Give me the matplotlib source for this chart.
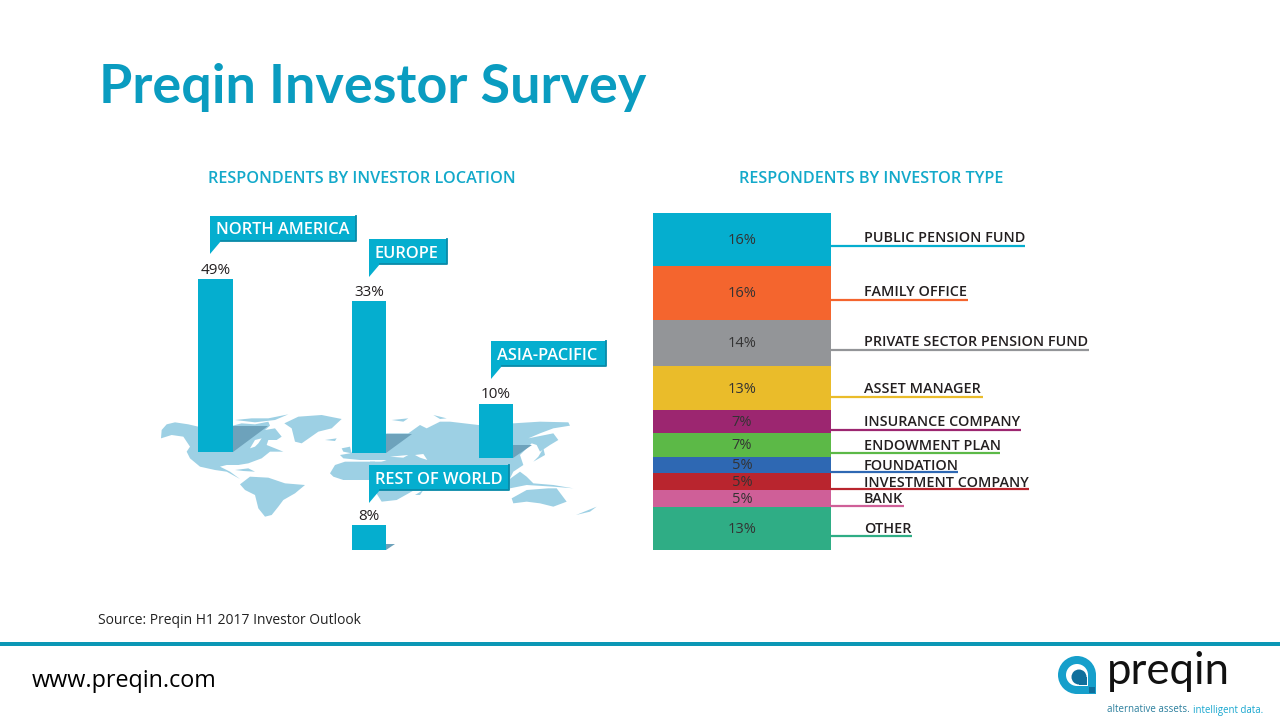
import matplotlib
matplotlib.use("Agg")
import matplotlib.pyplot as plt
from matplotlib.patches import Polygon, Circle, Rectangle

# left panel
regions = ["NORTH AMERICA", "EUROPE", "ASIA-PACIFIC", "REST OF WORLD"]
region_values = [49, 33, 10, 8]

# right panel
types = ["PUBLIC PENSION FUND", "FAMILY OFFICE", "PRIVATE SECTOR PENSION FUND", "ASSET MANAGER",
         "INSURANCE COMPANY", "ENDOWMENT PLAN", "FOUNDATION", "INVESTMENT COMPANY", "BANK", "OTHER"]
type_values = [16, 16, 14, 13, 7, 7, 5, 5, 5, 13]
type_colors = ["#05aecf", "#f4652e", "#939598", "#eabc2a", "#9c2670",
               "#5cb947", "#2e68b3", "#b9252e", "#cf5f98", "#2fad85"]

BLUE = "#05aecf"
TITLE = "#0a9cc0"
DARK = "#231f20"
W, H = 1280, 720
FONT = "Open Sans"

fig = plt.figure(figsize=(12.8, 7.2), dpi=100, facecolor="white")


def px_axes(x0, y0, x1, y1, z):
    # axes placed by pixel box, y counted from the top of the picture
    return fig.add_axes([x0 / W, 1 - y1 / H, (x1 - x0) / W, (y1 - y0) / H], zorder=z)


back = px_axes(0, 0, W, H, 0)
back.set_xlim(0, W)
back.set_ylim(H, 0)
back.axis("off")
front = px_axes(0, 0, W, H, 5)
front.set_xlim(0, W)
front.set_ylim(H, 0)
front.axis("off")
front.patch.set_alpha(0)


def west(pts):
    # traced on a 3x crop starting at (155, 405)
    return [(155 + a / 3, 405 + b / 3) for a, b in pts]


def east(pts):
    # traced on a 3x crop starting at (340, 405)
    return [(340 + a / 3, 405 + b / 3) for a, b in pts]


# rough world map behind the bars
land = [
    west([(18, 100), (20, 75), (35, 58), (60, 52), (100, 58), (130, 65), (233, 62), (260, 55), (300, 58), (340, 50),
          (345, 62), (330, 75), (360, 70), (380, 95), (365, 105), (340, 105), (335, 120), (385, 140), (345, 140),
          (320, 160), (280, 175), (250, 180), (215, 180), (195, 185), (225, 200), (255, 222), (215, 200), (180, 195),
          (135, 185), (105, 160), (95, 140), (105, 125), (85, 95), (50, 90)]),
    west([(240, 45), (290, 40), (340, 40), (400, 28), (360, 45), (300, 52)]),
    west([(388, 55), (430, 35), (500, 30), (560, 42), (530, 70), (490, 80), (440, 115), (420, 110), (410, 70)]),
    west([(510, 105), (545, 100), (540, 108)]),
    west([(240, 195), (280, 190), (300, 200), (265, 198)]),
    west([(255, 238), (285, 215), (340, 218), (390, 235), (450, 240), (420, 265), (385, 285), (370, 305), (350, 330),
          (330, 335), (310, 310), (300, 270), (270, 255)]),
    west([(560, 130), (585, 125), (590, 145), (565, 140)]),
    west([(525, 205), (540, 180), (570, 170), (660, 170), (660, 225), (565, 225), (535, 215)]),
    east([(90, 170), (200, 170), (510, 180), (505, 250), (220, 257), (170, 285), (125, 290), (100, 250)]),
    east([(0, 150), (30, 145), (140, 85), (205, 85), (240, 60), (260, 70), (300, 50), (330, 50), (415, 60), (520, 55),
          (600, 50), (685, 52), (690, 62), (640, 70), (600, 85), (565, 100), (640, 85), (655, 105), (630, 120),
          (600, 140), (590, 120), (575, 115), (540, 150), (550, 180), (520, 200), (505, 230), (500, 180), (100, 180),
          (140, 165), (60, 165), (10, 160)]),
    east([(505, 225), (540, 200), (560, 215), (580, 235), (640, 240), (700, 250), (640, 245), (560, 240), (510, 250)]),
    east([(595, 155), (610, 130), (615, 150), (580, 170)]),
    east([(515, 280), (560, 255), (625, 250), (650, 250), (680, 290), (640, 305), (600, 295), (560, 290), (520, 295)]),
    east([(708, 330), (770, 305), (750, 320)]),
    east([(155, 45), (205, 40), (190, 50)]),
    east([(280, 30), (320, 40), (300, 42)]),
    east([(225, 270), (250, 255), (240, 270)]),
]
for pts in land:
    back.add_patch(Polygon(pts, closed=True, fc="#9dd0e4", ec="none"))

# inland water
water = [
    west([(285, 130), (300, 105), (320, 100), (310, 115), (300, 125)]),
    east([(150, 155), (205, 150), (190, 158)]),
    east([(225, 150), (250, 147), (262, 165), (240, 158)]),
]
for pts in water:
    back.add_patch(Polygon(pts, closed=True, fc="white", ec="none"))

# bars sit at their own baselines and are not on one shared scale
bar_boxes = [(198, 279, 233, 452), (352, 301, 386, 453), (479, 404, 513, 458), (352, 525, 386, 550)]
for value, box in zip(region_values, bar_boxes):
    ax = px_axes(*box, 2)
    ax.bar([0], [value], width=1, color=BLUE)
    ax.set_xlim(-0.5, 0.5)
    ax.set_ylim(0, value)
    ax.axis("off")
    front.text((box[0] + box[2]) / 2, box[1] - 9, f"{value}%", ha="center", va="center",
               fontsize=11, color=DARK, family=FONT)

# shadows next to the bars
shadows = [[(233, 426), (268, 426), (233, 452)], [(386, 434), (412, 434), (386, 453)],
           [(513, 445), (532, 445), (513, 458)], [(386, 544), (395, 544), (386, 550)]]
for pts in shadows:
    front.add_patch(Polygon(pts, closed=True, fc="#6da2bb", ec="none", zorder=1))

# callouts
callouts = [(210, 216, 356, 241, 254), (369, 239, 447, 264, 277), (491, 341, 606, 366, 379), (369, 465, 509, 490, 503)]
for name, (x0, y0, x1, y1, tip) in zip(regions, callouts):
    front.add_patch(Polygon([(x0, y0), (x1, y0), (x1, y1), (x0 + 11, y1), (x0, tip)], closed=True,
                            fc=BLUE, ec="none", zorder=3))
    front.plot([x0 + 11, x1, x1], [y1, y1, y0], color="#0a8aa8", lw=1.3, zorder=3)
    front.text(x0 + 6, (y0 + y1) / 2 + 2, name, ha="left", va="center", fontsize=11.8, color="white",
               family=FONT, fontweight="semibold", zorder=4)

# stacked column, one percent point is one unit of the axis
stack = px_axes(653, 213, 831, 550, 2)
bottom = 0
mids = []
for value, color in zip(type_values, type_colors):
    stack.bar([0], [value], bottom=bottom, width=1, color=color)
    mids.append(bottom + value / 2)
    bottom += value
stack.set_xlim(-0.5, 0.5)
stack.set_ylim(sum(type_values), 0)
stack.axis("off")
for mid, value in zip(mids, type_values):
    stack.text(0, mid + 0.25, f"{value}%", ha="center", va="center", fontsize=10.5, color="#333333", family=FONT)

label_y = [238, 292, 342, 389, 422, 446, 466, 483, 499, 529]
rule_y = [246, 300, 350, 397, 430, 453, 472, 489, 506, 536]
rule_end = [1025, 968, 1089, 983, 1021, 1000, 958, 1029, 904, 912]
for name, color, ly, ry, xe in zip(types, type_colors, label_y, rule_y, rule_end):
    front.text(864, ly, name, ha="left", va="center", fontsize=10.35, color=DARK, family=FONT,
               fontweight="semibold")
    front.plot([831, xe], [ry, ry], color=color, lw=1.6, solid_capstyle="butt")

# headings
front.text(99, 88, "Preqin Investor Survey", ha="left", va="center", fontsize=38.8, fontweight="bold",
           color=TITLE, family="Lato")
front.text(362, 179, "RESPONDENTS BY INVESTOR LOCATION", ha="center", va="center", fontsize=11.7,
           fontweight="semibold", color="#13a9ca", family=FONT)
front.text(871, 179, "RESPONDENTS BY INVESTOR TYPE", ha="center", va="center", fontsize=11.7,
           fontweight="semibold", color="#13a9ca", family=FONT)
front.text(98, 620, "Source: Preqin H1 2017 Investor Outlook", ha="left", va="center", fontsize=10,
           color="#222222", family=FONT)

# footer
front.add_patch(Rectangle((0, 642), W, 4, fc="#0b97b5", ec="none"))
front.text(32, 681, "www.preqin.com", ha="left", va="center", fontsize=16.8, color="black", family=FONT)

# logo
front.add_patch(Circle((1077, 675), 19, fc="#169fcb", ec="none"))
front.add_patch(Rectangle((1077, 675), 19, 19, fc="#169fcb", ec="none"))
front.add_patch(Circle((1077, 675), 11, fc="white", ec="none"))
front.add_patch(Rectangle((1077, 675), 11, 11, fc="white", ec="none"))
front.add_patch(Circle((1079, 677), 7.5, fc="#0f6f9c", ec="none"))
front.add_patch(Rectangle((1079, 677), 7.5, 7.5, fc="#0f6f9c", ec="none"))
front.add_patch(Rectangle((1089, 687), 6, 6, fc="#0f6f9c", ec="none"))
front.text(1107, 672, "preqin", ha="left", va="center", fontsize=31.5, color="#111111", family="Lato")
front.text(1107, 710, "alternative assets.", ha="left", va="center", fontsize=7, color="#2b7f9d", family=FONT)
front.text(1193, 710, "intelligent data.", ha="left", va="center", fontsize=6.9, color="#17a6cf", family=FONT)

fig.savefig("out.png", dpi=100)
